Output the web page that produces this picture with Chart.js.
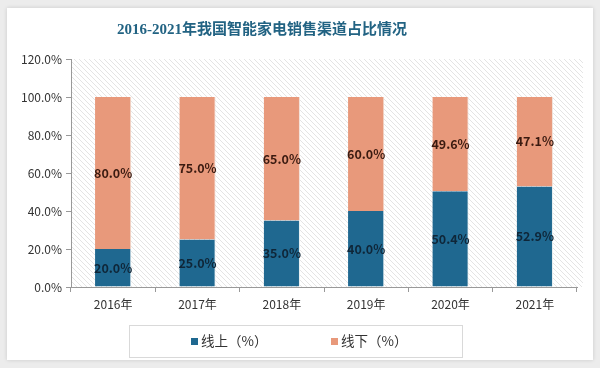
<!DOCTYPE html>
<html>
<head>
<meta charset="utf-8">
<script src="https://cdn.jsdelivr.net/npm/chart.js@4.4.1/dist/chart.umd.min.js"></script>
<style>
  html, body { margin: 0; padding: 0; background: #ececec; }
  #wrap { width: 600px; height: 368px; position: relative; }
</style>
</head>
<body>
<div id="wrap"><canvas id="c" width="600" height="368"></canvas></div>
<script>
// ── DATA ────────────────────────────────────────────────────
const years   = ['2016年', '2017年', '2018年', '2019年', '2020年', '2021年'];
const online  = [20.0, 25.0, 35.0, 40.0, 50.4, 52.9];
const offline = [80.0, 75.0, 65.0, 60.0, 49.6, 47.1];
const seriesNames = ['线上（%）', '线下（%）'];
const titleText = '2016-2021年我国智能家电销售渠道占比情况';

const BLUE = '#1f6890';
const ORANGE = '#e8997b';
const FONT = '"Noto Sans CJK SC", "Noto Sans", sans-serif';

// ── PLUGINS ─────────────────────────────────────────────────
function hatchPattern(ctx) {
  const p = document.createElement('canvas');
  p.width = 5; p.height = 5;
  const g = p.getContext('2d');
  g.strokeStyle = '#e4e4e4';
  g.lineWidth = 1;
  g.beginPath();
  g.moveTo(0, 0); g.lineTo(5, 5);
  g.moveTo(-1, 4); g.lineTo(1, 6);
  g.moveTo(4, -1); g.lineTo(6, 1);
  g.stroke();
  return ctx.createPattern(p, 'repeat');
}

const cardPlugin = {
  id: 'card',
  beforeDraw(chart) {
    const { ctx, chartArea: a } = chart;
    ctx.save();
    ctx.fillStyle = '#ececec';
    ctx.fillRect(0, 0, chart.width, chart.height);
    ctx.shadowColor = 'rgba(0,0,0,0.15)';
    ctx.shadowBlur = 4;
    ctx.fillStyle = '#ffffff';
    ctx.fillRect(7, 8, 586, 352);
    ctx.shadowBlur = 0;
    ctx.fillStyle = hatchPattern(ctx);
    ctx.fillRect(a.left, a.top, a.right - a.left + 6, a.bottom - a.top);
    // title
    ctx.fillStyle = '#226383';
    ctx.font = 'bold 15px "Liberation Serif", ' + FONT;
    ctx.textAlign = 'center';
    ctx.textBaseline = 'middle';
    ctx.fillText(titleText, 262, 30);
    ctx.restore();
  }
};

const labelPlugin = {
  id: 'segLabels',
  afterDatasetsDraw(chart) {
    const { ctx } = chart;
    ctx.save();
    ctx.font = 'bold 12.5px ' + FONT;
    ctx.textAlign = 'center';
    ctx.textBaseline = 'middle';
    chart.data.datasets.forEach((ds, i) => {
      chart.getDatasetMeta(i).data.forEach((bar, j) => {
        const mid = (bar.y + bar.base) / 2;
        ctx.fillStyle = i === 0 ? '#0f2638' : '#3a1a10';
        ctx.fillText(ds.data[j].toFixed(1) + '%', bar.x, mid);
      });
    });
    ctx.restore();
  },
  afterDraw(chart) {
    // legend box with its two entries
    const ctx = chart.ctx;
    ctx.save();
    ctx.strokeStyle = '#d9d9d9';
    ctx.lineWidth = 1;
    ctx.strokeRect(129.5, 325.5, 333, 32);
    ctx.font = '13.5px ' + FONT;
    ctx.textBaseline = 'middle';
    ctx.textAlign = 'left';
    const xs = [191, 331];
    chart.data.datasets.forEach((ds, i) => {
      ctx.fillStyle = ds.backgroundColor;
      ctx.fillRect(xs[i], 338, 7, 7);
      ctx.fillStyle = '#333';
      ctx.fillText(ds.label, xs[i] + 10, 341);
    });
    ctx.restore();
  }
};

// ── CHART ───────────────────────────────────────────────────
new Chart(document.getElementById('c'), {
  type: 'bar',
  data: {
    labels: years,
    datasets: [
      { label: seriesNames[0], data: online, backgroundColor: BLUE, borderColor: '#e6eef2', borderWidth: { right: 1 } },
      { label: seriesNames[1], data: offline, backgroundColor: ORANGE, borderColor: '#f3e0d8', borderWidth: { right: 1 } }
    ]
  },
  options: {
    responsive: false,
    animation: false,
    devicePixelRatio: 1,
    layout: { padding: { left: 7, right: 23, top: 59, bottom: 0 } },
    datasets: { bar: { categoryPercentage: 1, barPercentage: 0.43 } },
    plugins: {
      title: { display: false },
      tooltip: { enabled: false },
      legend: { display: false }
    },
    scales: {
      x: {
        stacked: true,
        afterFit: s => { s.height = 81; },
        grid: { offset: true, drawOnChartArea: false, tickLength: 5, color: '#999' },
        border: { color: '#999' },
        ticks: { color: '#333', font: { family: FONT, size: 12 }, padding: 5 }
      },
      y: {
        stacked: true,
        min: 0, max: 120,
        afterFit: s => { s.width = 64; },
        grid: { drawOnChartArea: false, tickLength: 5, color: '#999' },
        border: { color: '#999' },
        ticks: {
          stepSize: 20,
          color: '#333',
          font: { family: FONT, size: 12 },
          padding: 4,
          callback: v => v.toFixed(1) + '%'
        }
      }
    }
  },
  plugins: [cardPlugin, labelPlugin]
});
</script>
</body>
</html>
